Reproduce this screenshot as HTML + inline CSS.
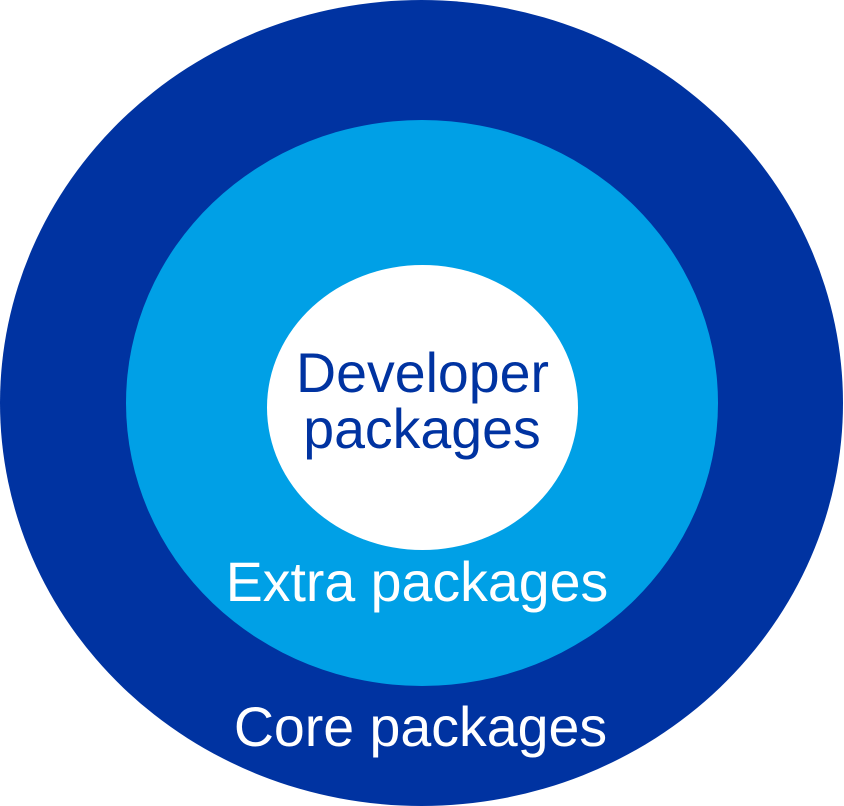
<!DOCTYPE html>
<html><head><style>html,body{margin:0;padding:0;background:#fff}svg{display:block}</style></head>
<body>
<svg width="844" height="806" viewBox="0 0 844 806" xmlns="http://www.w3.org/2000/svg">
<ellipse cx="421.5" cy="403" rx="421.5" ry="403" fill="#0033A1"/>
<ellipse cx="422" cy="403" rx="296" ry="283" fill="#00A0E6"/>
<ellipse cx="422.5" cy="407.5" rx="155.5" ry="142.5" fill="#FFFFFF"/>
<g font-family="Liberation Sans, Arial, sans-serif" font-size="55.5" text-anchor="middle">
<text x="422.5" y="392" fill="#0033A1">Developer</text>
<text x="422" y="448" fill="#0033A1">packages</text>
<text x="417" y="601" fill="#FFFFFF">Extra packages</text>
<text x="420.5" y="746" fill="#FFFFFF">Core packages</text>
</g>
</svg>
</body></html>
